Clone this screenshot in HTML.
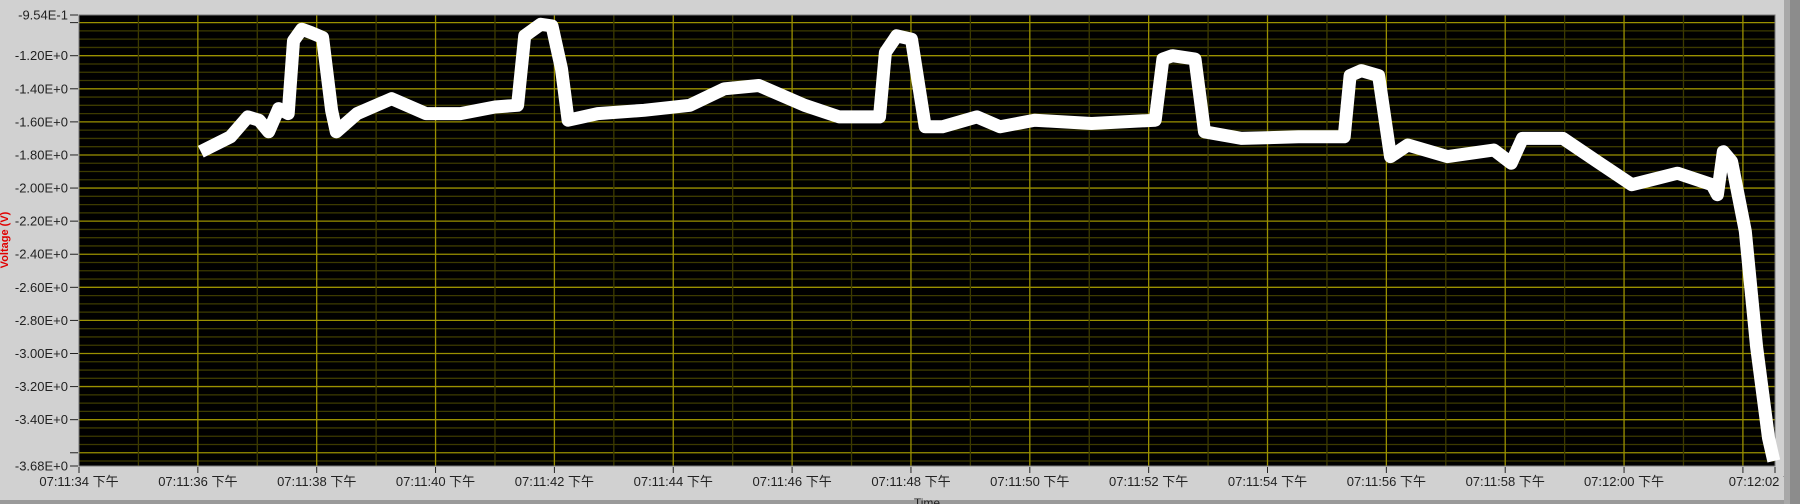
<!DOCTYPE html>
<html><head><meta charset="utf-8"><style>
html,body{margin:0;padding:0;background:#d1d1d1;}
svg{display:block;font-family:"Liberation Sans","Noto Sans CJK SC",sans-serif;}
</style></head><body>
<svg id="chart" width="1800" height="504" viewBox="0 0 1800 504">
<rect x="0" y="0" width="1800" height="504" fill="#d1d1d1"/>
<g id="grid"></g>
<g id="series"></g>
<g id="axes"></g>
<rect x="1784" y="0" width="6" height="504" fill="#a8a8a8"/>
<rect x="1790" y="0" width="10" height="504" fill="#8c8c8c"/>
<rect x="0" y="500" width="1784" height="4" fill="#9a9a9a"/>
<text x="8" y="240" transform="rotate(-90 8 240)" text-anchor="middle" font-size="11" font-weight="bold" fill="#e00000">Voltage (V)</text>
<text x="927" y="507" text-anchor="middle" font-size="12" fill="#222">Time</text>
</svg>
<script>
const times=[36.05,36.55,36.84,37.03,37.19,37.36,37.52,37.61,37.75,37.90,38.10,38.25,38.33,38.68,39.26,39.84,40.42,41.00,41.38,41.50,41.77,41.96,42.12,42.23,42.73,43.51,44.28,44.86,45.44,46.21,46.79,47.47,47.57,47.76,48.01,48.24,48.53,49.11,49.50,50.08,51.04,52.11,52.24,52.40,52.78,52.94,53.56,54.52,55.29,55.39,55.58,55.87,56.07,56.36,57.03,57.81,58.10,58.29,58.97,59.55,60.13,60.90,61.48,61.57,61.67,61.81,62.04,62.23,62.43,62.52];
const volts=[-1.78,-1.69,-1.57,-1.59,-1.66,-1.52,-1.55,-1.11,-1.04,-1.06,-1.09,-1.53,-1.66,-1.55,-1.46,-1.55,-1.55,-1.51,-1.50,-1.08,-1.01,-1.02,-1.28,-1.59,-1.55,-1.53,-1.50,-1.40,-1.38,-1.50,-1.57,-1.57,-1.18,-1.08,-1.10,-1.63,-1.63,-1.57,-1.63,-1.59,-1.61,-1.59,-1.22,-1.20,-1.22,-1.66,-1.70,-1.69,-1.69,-1.32,-1.29,-1.32,-1.81,-1.74,-1.81,-1.77,-1.85,-1.70,-1.70,-1.84,-1.98,-1.91,-1.98,-2.04,-1.78,-1.84,-2.26,-2.96,-3.51,-3.65];
const yTicks=[-1.0,-1.2,-1.4,-1.6,-1.8,-2.0,-2.2,-2.4,-2.6,-2.8,-3.0,-3.2,-3.4,-3.6];
const yLabels=["","-1.20E+0","-1.40E+0","-1.60E+0","-1.80E+0","-2.00E+0","-2.20E+0","-2.40E+0","-2.60E+0","-2.80E+0","-3.00E+0","-3.20E+0","-3.40E+0",""];
const xTicks=[34,36,38,40,42,44,46,48,50,52,54,56,58,60,62];
const xLabels=["07:11:34 下午","07:11:36 下午","07:11:38 下午","07:11:40 下午","07:11:42 下午","07:11:44 下午","07:11:46 下午","07:11:48 下午","07:11:50 下午","07:11:52 下午","07:11:54 下午","07:11:56 下午","07:11:58 下午","07:12:00 下午","07:12:02 下午"];
const yMax=-0.954,yMin=-3.68,xMinT=34,xMaxT=62.54;
const L=79,T=15,W=1696,H=451;
function xs(t){return L+(t-xMinT)/(xMaxT-xMinT)*W;}
function ys(v){return T+(yMax-v)/(yMax-yMin)*H;}
const NS="http://www.w3.org/2000/svg";
function mk(tag,attrs,parent){const e=document.createElementNS(NS,tag);for(const k in attrs)e.setAttribute(k,attrs[k]);parent.appendChild(e);return e;}
const grid=document.getElementById('grid'),axes=document.getElementById('axes'),series=document.getElementById('series');
const bg=mk('rect',{x:L,y:T,width:W,height:H,fill:'#000'},grid);


for(let v=-1.0;v>=yMin-1e-9;v-=0.05){const y=ys(v);const major=Math.abs(Math.round(v*100)%20)<1e-6;
 const ln=mk('line',{x1:L,x2:L+W,y1:y,y2:y,stroke:major?'#9a9000':'#3c3a00','stroke-width':1.3},grid);
 
 }
for(let t=35;t<xMaxT;t+=1){const x=xs(t);const major=(t%2===0);
 const ln=mk('line',{x1:x,x2:x,y1:T,y2:T+H,stroke:major?'#9a9000':'#3c3a00','stroke-width':1.3},grid);
 
 }
const r=mk('rect',{x:L,y:T,width:W,height:H,fill:'none',stroke:'#777','stroke-width':1},grid);


let d='';times.forEach((t,i)=>{d+=(i?'L':'M')+xs(t).toFixed(1)+' '+ys(volts[i]).toFixed(1);});
const p=mk('path',{d:d,fill:'none',stroke:'#fff','stroke-width':13,'stroke-linejoin':'round','stroke-linecap':'butt'},series);


function tickY(v,label){const y=ys(v);
 const tk=mk('line',{x1:70,x2:78,y1:y,y2:y,stroke:'#222','stroke-width':1},axes);
 
 
 if(label){const tx=mk('text',{x:68,y:y+4.5,'text-anchor':'end','font-size':13,fill:'#222'},axes);tx.textContent=label;
 
 }}
yTicks.forEach((v,i)=>tickY(v,yLabels[i]));
tickY(yMax,'-9.54E-1');tickY(yMin,'-3.68E+0');
xTicks.forEach((t,i)=>{const x=xs(t);
 const tk=mk('line',{x1:x,x2:x,y1:467,y2:473,stroke:'#222','stroke-width':1},axes);
 
 
 let cx=x;if(i===xTicks.length-1)cx=x+26;
 const tx=mk('text',{x:cx,y:486,'text-anchor':'middle','font-size':13,fill:'#222'},axes);tx.textContent=xLabels[i];
 
 });
const et=mk('line',{x1:L+W,x2:L+W,y1:467,y2:473,stroke:'#222','stroke-width':1},axes);


</script>
</body></html>
